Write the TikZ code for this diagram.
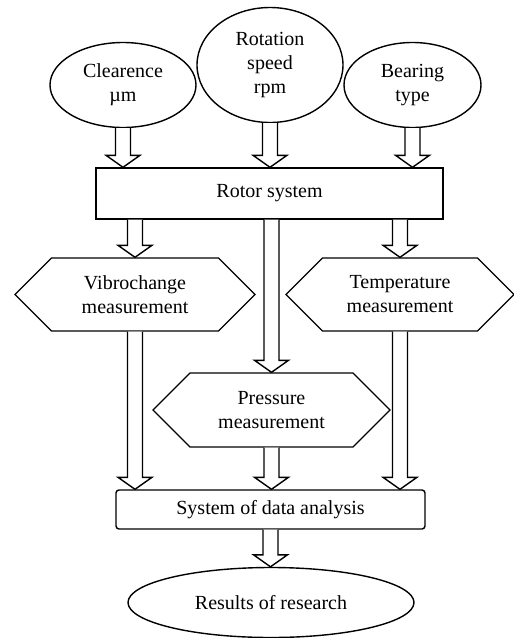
\documentclass[tikz,border=0pt]{standalone}
\usepackage{fontspec}
\setmainfont{Liberation Serif}
\usetikzlibrary{shapes.geometric,shapes.symbols,calc}
\tikzset{
	oval/.style={ellipse, draw, inner sep=0pt, align=center},
	block/.style={rectangle, draw, inner sep=0pt, align=center},
	hexa/.style={signal, signal to=west and east, signal pointer angle=90, draw, inner sep=0pt, align=center},
	fat/.style={draw, fill=white}
}
\newcommand{\fatarrow}[2]{%
	\draw[fat] let \p1=(#1), \p2=(#2) in (\x1-3.75pt,\y1) -- (\x1-3.75pt,\y2+6pt) -- (\x1-8.5pt,\y2+6pt) -- (\x1,\y2) -- (\x1+8.5pt,\y2+6pt) -- (\x1+3.75pt,\y2+6pt) -- (\x1+3.75pt,\y1);
}
\begin{document}
\begin{tikzpicture}[x=0.5pt, y=-0.5pt, line width=0.7pt, font=\fontsize{10}{12}\selectfont]
			\useasboundingbox (0,0) rectangle (514,638);

			\node [oval, minimum width=73pt, minimum height=42.5pt] (clear) at (123,85) {Clearence\\µm};
			\node [oval, minimum width=73pt, minimum height=57.5pt] (speed) at (270,65) {Rotation\\speed\\rpm};
			\node [oval, minimum width=68.5pt, minimum height=42.5pt] (bearing) at (412.5,85) {Bearing\\type};

			\node [block, minimum width=173.5pt, minimum height=25.5pt] (rotor) at (269.5,193.5) {Rotor system};

			\node [hexa, minimum width=120pt, minimum height=36.5pt] (vibro) at (135,294.5) {Vibrochange\\measurement};
			\node [hexa, minimum width=114pt, minimum height=36.5pt] (temp) at (400,294.5) {Temperature\\measurement};
			\node [hexa, minimum width=118.5pt, minimum height=37pt] (pres) at (271.5,410) {Pressure\\measurement};

			\node [block, rounded corners=1.5pt, minimum width=154.5pt, minimum height=19.5pt] (data) at (270.5,509.5) {System of data analysis};
			\node [oval, minimum width=143pt, minimum height=35pt] (results) at (271,602.5) {Results of research};

			\fatarrow{clear.south}{clear.south |- rotor.north}
			\fatarrow{speed.south}{speed.south |- rotor.north}
			\fatarrow{bearing.south}{bearing.south |- rotor.north}
			\fatarrow{vibro.north |- rotor.south}{vibro.north}
			\fatarrow{temp.north |- rotor.south}{temp.north}
			\fatarrow{pres.north |- rotor.south}{pres.north}
			\fatarrow{vibro.south}{vibro.south |- data.north}
			\fatarrow{temp.south}{temp.south |- data.north}
			\fatarrow{pres.south}{pres.south |- data.north}
			\fatarrow{data.south}{results.north}
		\end{tikzpicture}
\end{document}
